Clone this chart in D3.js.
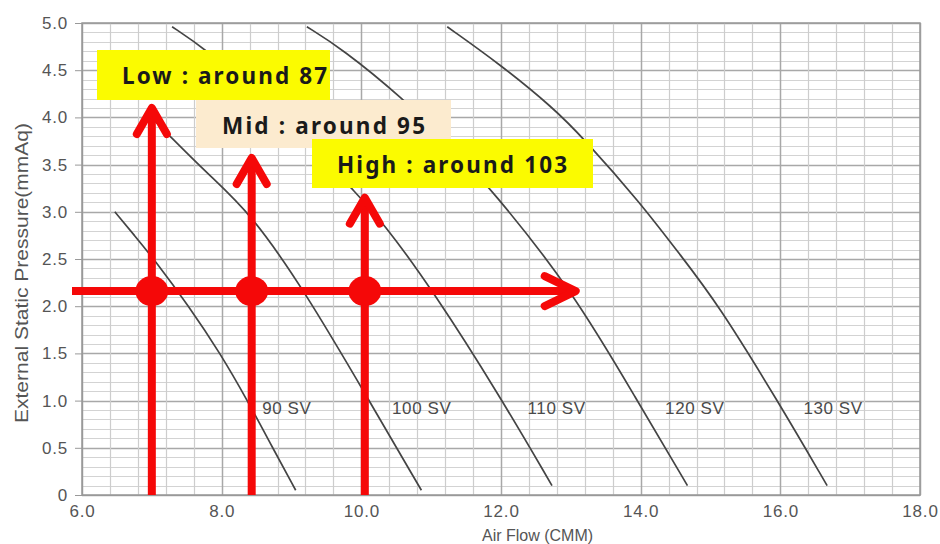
<!DOCTYPE html>
<html><head><meta charset="utf-8">
<script src="https://cdn.jsdelivr.net/npm/d3@7"></script>
<style>html,body{margin:0;padding:0;background:#fff;}svg{display:block;}</style>
</head><body>
<svg id="chart" width="940" height="544"></svg>
<script>
// ---- data ----
const xTickValues = [6, 8, 10, 12, 14, 16, 18];
const xTickLabels = ["6.0", "8.0", "10.0", "12.0", "14.0", "16.0", "18.0"];
const yTickValues = [0, 0.5, 1, 1.5, 2, 2.5, 3, 3.5, 4, 4.5, 5];
const yTickLabels = ["0", "0.5", "1.0", "1.5", "2.0", "2.5", "3.0", "3.5", "4.0", "4.5", "5.0"];
const curveNames = ["90 SV", "100 SV", "110 SV", "120 SV", "130 SV"];
const sv90  = [[6.47,3.0],[6.75,2.75],[7.03,2.5],[7.53,2.0],[7.98,1.5],[8.37,1.0],[8.73,0.5],[9.06,0.05]];
const sv100 = [[6.95,4.03],[7.22,3.83],[7.8,3.4],[8.41,2.99],[9.19,2.16],[10.08,1.04],[10.86,0.05]];
const sv110 = [[7.29,4.96],[7.76,4.73],[8.6,4.2],[9.3,3.7],[9.88,3.23],[10.3,2.9],[11.03,2.16],[11.99,1.04],[12.73,0.1]];
const sv120 = [[9.22,4.96],[9.72,4.73],[10.6,4.2],[11.27,3.71],[11.85,3.25],[13.03,2.16],[13.95,1.0],[14.67,0.1]];
const sv130 = [[11.23,4.96],[11.99,4.56],[12.75,4.1],[13.18,3.78],[13.99,3.1],[14.57,2.54],[15.1,2.03],[15.96,1.0],[16.67,0.1]];
const curveLabelPos = [[8.58,0.86],[10.44,0.86],[12.38,0.86],[14.35,0.86],[16.33,0.86]];
const opFlows = [7.0, 8.43, 10.05];
const opPressure = 2.16;
const arrowTops = [4.1, 3.57, 3.15];
const hArrowEnd = 13.07;
const noteTexts = ["Low : around 87", "Mid : around 95", "High : around 103"];

// ---- layout ----
const svg = d3.select("#chart");
const x = d3.scaleLinear().domain([6, 18]).range([82, 920]);
const y = d3.scaleLinear().domain([0, 5]).range([495, 23]);
const red = "#f50808";
const FONT = "Liberation Sans, Arial, sans-serif";

svg.append("rect").attr("width", 940).attr("height", 544).attr("fill", "#fff");

// grid
const g = svg.append("g");
const minorY = d3.range(0, 5.0001, 0.1);
const isMajY = d => Math.round(d * 10) % 5 === 0;
g.selectAll(".hmin").data(minorY).enter().append("line")
  .attr("x1", x(6)).attr("x2", x(18)).attr("y1", d => Math.round(y(d)) + 0.5).attr("y2", d => Math.round(y(d)) + 0.5)
  .attr("stroke", d => isMajY(d) ? "#a8a8a8" : "#d3d3d3").attr("stroke-width", d => isMajY(d) ? 1.5 : 1.2);
const minorX = d3.range(6, 18.0001, 0.4);
const isMajX = d => Math.abs(d / 2 - Math.round(d / 2)) < 1e-6;
g.selectAll(".vmin").data(minorX).enter().append("line")
  .attr("y1", y(0)).attr("y2", y(5)).attr("x1", d => Math.round(x(d)) + 0.5).attr("x2", d => Math.round(x(d)) + 0.5)
  .attr("stroke", d => isMajX(d) ? "#a8a8a8" : "#cdcdcd").attr("stroke-width", d => isMajX(d) ? 1.5 : 1.2);
g.append("rect").attr("x", x(6)).attr("y", y(5)).attr("width", x(18) - x(6)).attr("height", y(0) - y(5))
  .attr("fill", "none").attr("stroke", "#999").attr("stroke-width", 1.5);

// axes
const yAxis = d3.axisLeft(y).tickValues(yTickValues).tickFormat((d, i) => yTickLabels[i]).tickSize(7).tickPadding(7);
const ya = svg.append("g").attr("transform", `translate(${x(6)},0)`).call(yAxis);
ya.select(".domain").attr("stroke", "#999");
ya.selectAll(".tick line").attr("stroke", "#999");
ya.selectAll("text").attr("font-family", FONT).attr("font-size", 17).attr("letter-spacing", 0.8).attr("fill", "#555");

const xAxis = d3.axisBottom(x).tickValues(xTickValues).tickFormat((d, i) => xTickLabels[i]).tickSize(0).tickPadding(10);
const xa = svg.append("g").attr("transform", `translate(0,${y(0)})`).call(xAxis);
xa.select(".domain").attr("stroke", "#999");
xa.selectAll("text").attr("font-family", FONT).attr("font-size", 17).attr("letter-spacing", 0.8).attr("fill", "#555");

svg.append("text").attr("x", 482).attr("y", 541).attr("font-family", FONT)
  .attr("font-size", 16).attr("fill", "#555").text("Air Flow (CMM)");
svg.append("text").attr("transform", "translate(28,273) rotate(-90)").attr("text-anchor", "middle")
  .attr("font-family", FONT).attr("font-size", 18).attr("fill", "#555")
  .attr("textLength", 300).attr("lengthAdjust", "spacingAndGlyphs")
  .text("External Static Pressure(mmAq)");

// fan curves
const line = d3.line().x(d => x(d[0])).y(d => y(d[1])).curve(d3.curveBasis);
const curves = [sv90, sv100, sv110, sv120, sv130];
svg.append("g").selectAll("path").data(curves).enter().append("path")
  .attr("d", line).attr("fill", "none").attr("stroke", "#444").attr("stroke-width", 1.7);
svg.append("g").selectAll("text").data(curveNames).enter().append("text")
  .attr("x", (d, i) => x(curveLabelPos[i][0])).attr("y", (d, i) => y(curveLabelPos[i][1]))
  .attr("font-family", FONT).attr("font-size", 17).attr("letter-spacing", 0.6).attr("fill", "#4a4a4a")
  .text(d => d);

// red annotations
const ann = svg.append("g").attr("stroke", red).attr("fill", "none").attr("stroke-width", 8)
  .attr("stroke-linecap", "round").attr("stroke-linejoin", "round");
ann.append("line").attr("x1", 72).attr("x2", x(hArrowEnd) - 2).attr("y1", y(opPressure)).attr("y2", y(opPressure)).attr("stroke-linecap", "butt");
ann.append("polyline").attr("points", [[x(hArrowEnd) - 31, y(opPressure) - 15], [x(hArrowEnd), y(opPressure)], [x(hArrowEnd) - 31, y(opPressure) + 15]].join(" "));
opFlows.forEach((f, i) => {
  ann.append("line").attr("x1", x(f)).attr("x2", x(f)).attr("y1", y(0)).attr("y2", y(arrowTops[i]) + 3).attr("stroke-linecap", "butt");
  ann.append("polyline").attr("points", [[x(f) - 15, y(arrowTops[i]) + 26], [x(f), y(arrowTops[i])], [x(f) + 15, y(arrowTops[i]) + 26]].join(" "));
});
svg.append("g").selectAll("ellipse").data(opFlows).enter().append("ellipse")
  .attr("cx", d => x(d)).attr("cy", y(opPressure)).attr("rx", 16.5).attr("ry", 15).attr("fill", red);

// note boxes
const boxes = [
  {x: 97, y: 50, w: 233, h: 50, fill: "#fbfb00", tx: 122, ty: 84, tw: 205},
  {x: 196, y: 100, w: 255, h: 48, fill: "#fcebcf", tx: 222, ty: 134, tw: 203},
  {x: 312, y: 139, w: 281, h: 49, fill: "#fbfb00", tx: 337, ty: 173, tw: 230}
];
boxes.forEach((b, i) => {
  svg.append("rect").attr("x", b.x).attr("y", b.y).attr("width", b.w).attr("height", b.h).attr("fill", b.fill);
  svg.append("text").attr("x", b.tx).attr("y", b.ty).attr("font-family", "Noto Sans, sans-serif")
    .attr("font-weight", "bold").attr("font-size", 22.5).attr("fill", "#1a1a1a")
    .attr("textLength", b.tw).attr("lengthAdjust", "spacing").text(noteTexts[i]);
});
</script>
</body></html>
